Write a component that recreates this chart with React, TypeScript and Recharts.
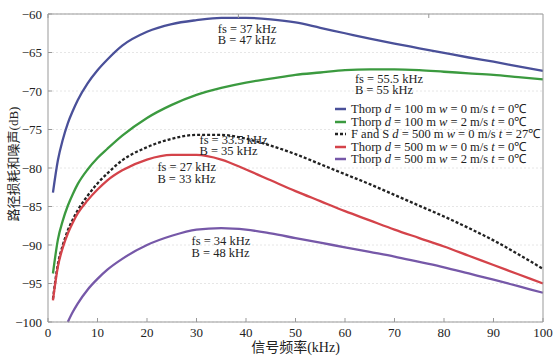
import React from 'react';
import {
  LineChart,
  Line,
  XAxis,
  YAxis,
  CartesianGrid,
  ReferenceDot,
} from 'recharts';

const SERIF = 'Liberation Serif, serif';
const CJK = 'Liberation Serif, Noto Sans CJK SC, serif';

// 信号频率 (kHz)
const FREQ = [1, 2, 3, 4, 5, 6, 8, 10, 12, 15, 20, 25, 30, 35, 40, 45, 50, 55, 60, 65, 70, 75, 80, 85, 90, 95, 100];

// 路径损耗和噪声 (dB)
const THORP_100_W0 = [-83.2, -79.0, -76.3, -74.2, -72.6, -71.2, -69.0, -67.3, -65.9, -64.1, -62.3, -61.3, -60.8, -60.5, -60.5, -60.7, -61.1, -61.8, -62.5, -63.2, -63.85, -64.45, -65.05, -65.65, -66.2, -66.8, -67.4];
const THORP_100_W2 = [-93.7, -89.3, -86.8, -84.9, -83.4, -82.1, -80.2, -78.7, -77.5, -75.8, -73.5, -71.8, -70.5, -69.6, -68.9, -68.4, -67.9, -67.6, -67.3, -67.2, -67.2, -67.3, -67.5, -67.7, -67.9, -68.2, -68.5];
const FS_500_W0 = [-97.0, -92.5, -90.0, -88.1, -86.7, -85.5, -83.6, -82.0, -80.7, -79.0, -77.3, -76.2, -75.7, -75.7, -76.2, -77.1, -78.2, -79.5, -80.8, -82.1, -83.5, -84.9, -86.3, -87.8, -89.4, -91.2, -93.1];
const THORP_500_W0 = [-97.2, -92.8, -90.3, -88.5, -87.1, -85.9, -84.2, -82.8, -81.6, -80.3, -78.9, -78.3, -78.3, -78.9, -80.2, -81.6, -83.0, -84.3, -85.6, -86.8, -88.0, -89.1, -90.2, -91.4, -92.6, -93.8, -95.0];
const THORP_500_W2 = [null, null, null, -100.0, -98.7, -97.6, -95.8, -94.4, -93.2, -91.8, -90.0, -88.8, -88.0, -87.8, -88.0, -88.5, -89.1, -89.7, -90.3, -90.9, -91.5, -92.2, -92.9, -93.7, -94.5, -95.35, -96.2];

const X_TICKS = [0, 10, 20, 30, 40, 50, 60, 70, 80, 90, 100];
const Y_TICKS = [-100, -95, -90, -85, -80, -75, -70, -65, -60];

const SERIES = [
  { key: 'a', values: THORP_100_W0, color: '#4a5099', dash: undefined, model: 'Thorp', d: '100', w: '0', t: '0' },
  { key: 'b', values: THORP_100_W2, color: '#3b9a3f', dash: undefined, model: 'Thorp', d: '100', w: '2', t: '0' },
  { key: 'c', values: FS_500_W0, color: '#222222', dash: '3 2', model: 'F and S', d: '500', w: '0', t: '27' },
  { key: 'd', values: THORP_500_W0, color: '#d4434a', dash: undefined, model: 'Thorp', d: '500', w: '0', t: '0' },
  { key: 'e', values: THORP_500_W2, color: '#7658a8', dash: undefined, model: 'Thorp', d: '500', w: '2', t: '0' },
];

// 峰值标注: anchor in data coords (kHz, dB)
const NOTES = [
  { f: 34.3, v: -61.9, fs: '37', b: '47' },
  { f: 62.0, v: -68.4, fs: '55.5', b: '55' },
  { f: 30.6, v: -76.3, fs: '33.5', b: '35' },
  { f: 22.1, v: -79.9, fs: '27', b: '33' },
  { f: 29.0, v: -89.5, fs: '34', b: '48' },
];

const data = FREQ.map((f, i) => {
  const row: Record<string, number | null> = { f };
  SERIES.forEach((s) => {
    row[s.key] = s.values[i];
  });
  return row;
});

const minus = (v: number) => String(v).replace('-', '\u2212');
const emptyTick = () => <g />;
const tickStyle = { fontSize: 13, fill: '#222', fontFamily: SERIF, style: { fontFamily: SERIF } };

function NoteLabel({ viewBox, fs, b }: any) {
  const x = viewBox?.x ?? 0;
  const y = viewBox?.y ?? 0;
  return (
    <g style={{ fontFamily: SERIF, fontSize: 12.5 }} fill="#222">
      <text x={x} y={y} dominantBaseline="central">{`fs = ${fs} kHz`}</text>
      <text x={x} y={y + 11.5} dominantBaseline="central">{`B = ${b} kHz`}</text>
    </g>
  );
}

function LegendBox() {
  return (
    <div
      style={{
        position: 'absolute',
        left: 334,
        top: 103,
        fontFamily: SERIF,
        fontSize: 12.5,
        color: '#222',
        lineHeight: '12.5px',
      }}
    >
      {SERIES.map((s) => (
        <div key={s.key} style={{ display: 'flex', alignItems: 'center', whiteSpace: 'nowrap', height: 12.5 }}>
          <svg width={14} height={10} style={{ marginRight: 3 }}>
            <line x1={1} y1={5} x2={12} y2={5} stroke={s.color} strokeWidth={2.5} strokeDasharray={s.dash} />
          </svg>
          <span>
            {s.model} <i>d</i> = {s.d} m <i>w</i> = {s.w} m/s <i>t</i> = {s.t}℃
          </span>
        </div>
      ))}
    </div>
  );
}

export default function App() {
  return (
    <div style={{ position: 'absolute', left: 0, top: 0, width: 555, height: 356, background: '#fff', fontFamily: SERIF }}>
      <LineChart width={555} height={356} data={data} margin={{ top: 13, right: 11, left: 0, bottom: 0 }}>
        <CartesianGrid horizontal vertical={false} stroke="#e6e6e6" strokeDasharray="2 2" />
        <XAxis
          dataKey="f"
          type="number"
          domain={[0, 100]}
          ticks={X_TICKS}
          height={34}
          stroke="#999"
          tickSize={-4}
          tickMargin={10}
          tick={tickStyle}
          label={{ value: '信号频率(kHz)', position: 'insideBottom', offset: 4, fontSize: 14, fill: '#222', style: { fontFamily: CJK } }}
        />
        <XAxis
          xAxisId="top"
          orientation="top"
          type="number"
          domain={[0, 100]}
          ticks={X_TICKS}
          height={1}
          stroke="#999"
          tickSize={-4}
          tick={emptyTick}
        />
        <YAxis
          type="number"
          domain={[-100, -60]}
          ticks={Y_TICKS}
          width={48}
          stroke="#999"
          tickSize={-4}
          tickMargin={10}
          tickFormatter={minus}
          tick={tickStyle}
          label={{
            content: ({ viewBox }: any) => {
              const cy = (viewBox?.y ?? 0) + (viewBox?.height ?? 0) / 2 - 4;
              return (
                <text
                  x={13}
                  y={cy}
                  transform={`rotate(-90, 13, ${cy})`}
                  textAnchor="middle"
                  dominantBaseline="central"
                  style={{ fontFamily: CJK, fontSize: 13 }}
                  fill="#222"
                >
                  路径损耗和噪声(dB)
                </text>
              );
            },
          }}
        />
        <YAxis
          yAxisId="right"
          orientation="right"
          type="number"
          domain={[-100, -60]}
          ticks={Y_TICKS}
          width={1}
          stroke="#999"
          tickSize={-4}
          tick={emptyTick}
        />
        {SERIES.map((s) => (
          <Line
            key={s.key}
            dataKey={s.key}
            type="monotone"
            stroke={s.color}
            strokeWidth={2.3}
            strokeDasharray={s.dash}
            dot={false}
            isAnimationActive={false}
          />
        ))}
        {NOTES.map((n) => (
          <ReferenceDot
            key={n.fs}
            x={n.f}
            y={n.v}
            r={0}
            fill="none"
            stroke="none"
            label={<NoteLabel fs={n.fs} b={n.b} />}
          />
        ))}
      </LineChart>
      <LegendBox />
    </div>
  );
}
